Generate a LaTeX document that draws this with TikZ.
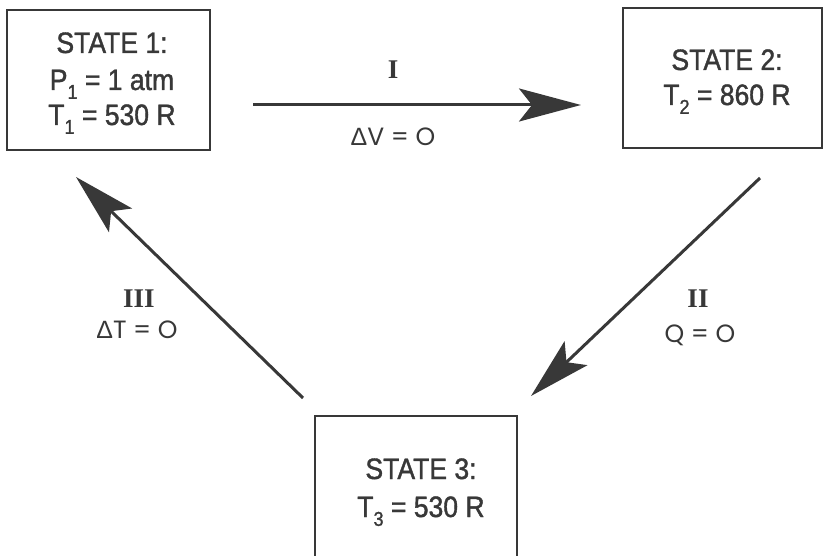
\documentclass[tikz,border=0pt]{standalone}
\usepackage{fontspec}
\setmainfont{Liberation Sans}[FakeStretch=0.9,FakeBold=1.3]
\newfontfamily\labfont{Poppins}
\newfontfamily\deltafont{Liberation Sans}
\newfontfamily\romfont{Liberation Serif}
\usetikzlibrary{arrows.meta}
\definecolor{ink}{HTML}{383838}
\newcommand{\lowsub}[1]{\raisebox{-0.3em}{\fontsize{20}{20}\selectfont #1}}
\begin{document}
\begin{tikzpicture}[x=1pt,y=-1pt,
  statebox/.style={draw=ink, line width=1.8pt, text=ink, align=center,
    font=\fontsize{29}{36}\selectfont, inner sep=0pt},
  flow/.style={draw=ink, line width=3pt,
    -{Stealth[length=62pt,width=33pt,inset=13pt]}},
  statetext/.style={text=ink, font=\fontsize{29.5}{36}\selectfont, anchor=base, inner sep=0pt},
  romlab/.style={text=ink, font=\romfont\bfseries\fontsize{27}{27}\selectfont, inner sep=0pt},
  eqlab/.style={text=ink, font=\labfont\fontsize{25}{25}\selectfont, inner sep=0pt}]
\useasboundingbox (0,0) rectangle (825,556);
\fill[white] (0,0) rectangle (825,556);
% boxes
\node[statebox, minimum width=203pt, minimum height=140pt] (s1) at (108.5,80) {};
\node[statebox, minimum width=199pt, minimum height=140pt] (s2) at (722.5,78) {};
\node[statebox, minimum width=202pt, minimum height=146pt] (s3) at (416,489) {};
% texts
\node[statetext] (t1a) at (112,53) {STATE 1:};
\node[statetext] (t1b) at (112,90) {P\lowsub{1} = 1 atm};
\node[statetext] (t1c) at (112,125) {T\lowsub{1} = 530 R};
\node[statetext] (t2a) at (727,70) {STATE 2:};
\node[statetext] (t2b) at (727,105) {T\lowsub{2} = 860 R};
\node[statetext] (t3a) at (421,479) {STATE 3:};
\node[statetext] (t3b) at (421,517) {T\lowsub{3} = 530 R};
% arrow end points
\coordinate (a1s) at (253,105);
\coordinate (a1e) at (581,105);
\coordinate (a2s) at (760,178);
\coordinate (a2e) at (531,396);
\coordinate (a3s) at (303,398);
\coordinate (a3e) at (76,177);
\draw[flow] (a1s) -- (a1e);
\draw[flow] (a2s) -- (a2e);
\draw[flow] (a3s) -- (a3e);
% labels
\node[romlab, anchor=base] (l1) at (393,79) {I};
\node[eqlab, anchor=base] (e1) at (393,146) {{\deltafont Δ}V = O};
\node[romlab, anchor=base] (l2) at (698,308) {II};
\node[eqlab, anchor=base] (e2) at (700,342) {Q = O};
\node[romlab, anchor=base] (l3) at (139,308) {III};
\node[eqlab, anchor=base] (e3) at (137,338) {{\deltafont Δ}T = O};
\end{tikzpicture}
\end{document}
